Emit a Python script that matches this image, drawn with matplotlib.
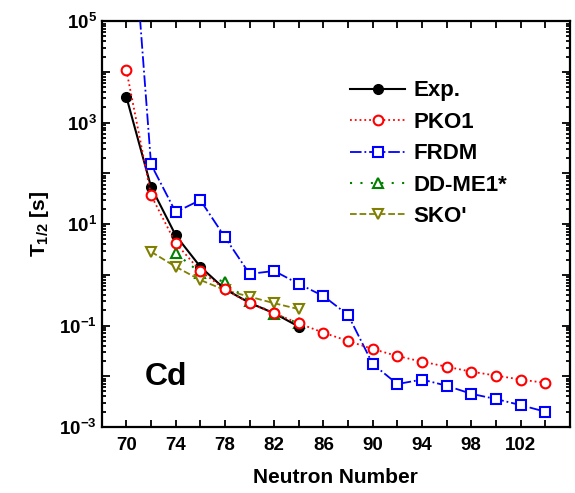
import numpy as np
import matplotlib
matplotlib.use("Agg")
import matplotlib.pyplot as plt
from matplotlib.ticker import FixedLocator, LogLocator, FuncFormatter, NullFormatter

plt.rcParams['font.family'] = ['Liberation Sans', 'DejaVu Sans']
plt.rcParams['font.weight'] = 'bold'
plt.rcParams['mathtext.fontset'] = 'custom'
plt.rcParams['mathtext.rm'] = 'Liberation Sans:bold'
plt.rcParams['mathtext.bf'] = 'Liberation Sans:bold'
plt.rcParams['mathtext.it'] = 'Liberation Sans:bold'

# data
n_exp = [70, 72, 74, 76, 78, 80, 82, 84]
t_exp = [3.2e3, 54, 6.0, 1.44, 0.52, 0.28, 0.174, 0.095]

n_pko1 = [70, 72, 74, 76, 78, 80, 82, 84, 86, 88, 90, 92, 94, 96, 98, 100, 102, 104]
t_pko1 = [1.08e4, 37, 4.2, 1.19, 0.52, 0.275, 0.174, 0.11, 0.072, 0.0495, 0.0344,
          0.025, 0.0194, 0.0154, 0.0123, 0.0103, 0.0086, 0.0074]

n_frdm = [70, 72, 74, 76, 78, 80, 82, 84, 86, 88, 90, 92, 94, 96, 98, 100, 102, 104]
t_frdm = [3.9e8, 150, 17.2, 29.7, 5.5, 1.04, 1.19, 0.66, 0.38, 0.161, 0.0174,
          0.0070, 0.0086, 0.0065, 0.0045, 0.00355, 0.0027, 0.0020]

n_ddme = [74, 76, 78, 80, 82, 84]
t_ddme = [2.65, 1.1, 0.71, 0.30, 0.17, 0.11]

n_sko = [72, 74, 76, 78, 80, 82, 84]
t_sko = [2.85, 1.44, 0.79, 0.50, 0.37, 0.275, 0.21]

fig = plt.figure(figsize=(5.75, 4.93), dpi=100)
ax = fig.add_axes([0.177, 0.134, 0.814, 0.823])

ms = 7
mew = 1.5
ax.plot(n_exp, t_exp, color='black', linestyle='-', linewidth=1.5, marker='o',
        markersize=ms, markerfacecolor='black', markeredgecolor='black', label='Exp.', zorder=3)
ax.plot(n_pko1, t_pko1, color='red', linestyle=':', linewidth=1.3, marker='o',
        markersize=ms, markerfacecolor='white', markeredgecolor='red', markeredgewidth=mew,
        label='PKO1', zorder=5)
ax.plot(n_frdm, t_frdm, color='blue', linestyle='-.', linewidth=1.3, marker='s',
        markersize=6.5, markerfacecolor='white', markeredgecolor='blue', markeredgewidth=mew,
        label='FRDM', zorder=4)
ax.plot(n_ddme, t_ddme, color='green', linestyle=(0, (1, 4)), linewidth=1.5, marker='^',
        markersize=ms, markerfacecolor='white', markeredgecolor='green', markeredgewidth=mew,
        label='DD-ME1*', zorder=2)
ax.plot(n_sko, t_sko, color='#808000', linestyle='--', linewidth=1.3, marker='v',
        markersize=ms, markerfacecolor='white', markeredgecolor='#808000', markeredgewidth=mew,
        label="SKO'", zorder=2)

ax.set_yscale('log')
ax.set_xlim(68, 106)
ax.set_ylim(1e-3, 1e5)

ax.xaxis.set_major_locator(FixedLocator(np.arange(70, 106, 4)))
ax.xaxis.set_minor_locator(FixedLocator(np.arange(72, 106, 4)))
ax.yaxis.set_major_locator(LogLocator(base=10, numticks=20))
ax.yaxis.set_minor_locator(LogLocator(base=10, subs=np.arange(2, 10), numticks=20))


def ylab(v, pos):
    e = int(round(np.log10(v)))
    if e % 2 == 0:
        return ''
    return r'$\mathbf{10^{%d}}$' % e


ax.yaxis.set_major_formatter(FuncFormatter(ylab))
ax.yaxis.set_minor_formatter(NullFormatter())

ax.tick_params(axis='both', which='both', direction='in', top=True, right=True,
               width=1.3, labelsize=13.5)
ax.tick_params(axis='x', which='both', length=5)
ax.tick_params(axis='y', which='major', length=6)
ax.tick_params(axis='y', which='minor', length=3)
ax.tick_params(axis='x', pad=7)
for s in ax.spines.values():
    s.set_linewidth(1.6)

ax.set_xlabel('Neutron Number', fontsize=15, fontweight='bold', labelpad=10)
ax.set_ylabel(r'T$_{1/2}$ [s]', fontsize=15, fontweight='bold', labelpad=6)

ax.text(0.092, 0.103, 'Cd', transform=ax.transAxes, fontsize=23, fontweight='bold')

ax.legend(loc='upper left', bbox_to_anchor=(0.511, 0.876), frameon=False, fontsize=16,
          handlelength=2.5, labelspacing=0.47, handletextpad=0.35, borderaxespad=0)

fig.savefig('out.png', dpi=100)
